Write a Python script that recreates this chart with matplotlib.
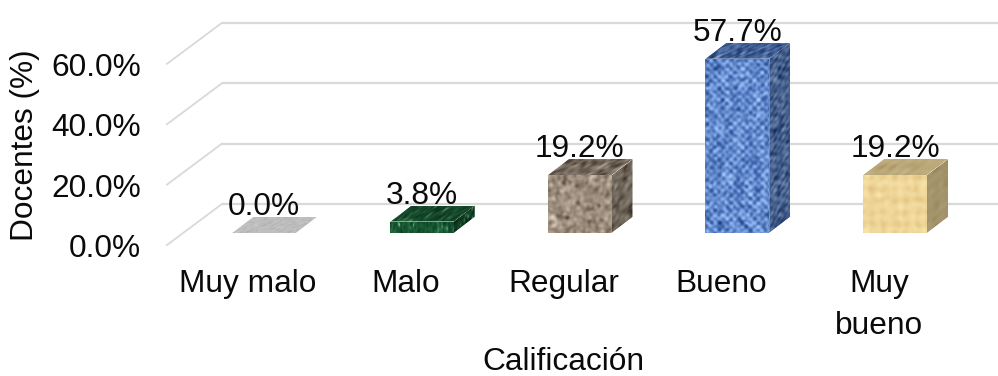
import numpy as np
import matplotlib
matplotlib.use("Agg")
import matplotlib.pyplot as plt
from matplotlib.patches import Polygon
from matplotlib.transforms import Affine2D

categories = ["Muy malo", "Malo", "Regular", "Bueno", "Muy\nbueno"]
values = [0.0, 3.8, 19.2, 57.7, 19.2]
y_ticks = [0, 20, 40, 60]
y_tick_labels = ["0.0%", "20.0%", "40.0%", "60.0%"]
x_title = "Calificación"
y_title = "Docentes (%)"

W, H = 998, 376
CAT_PX, PCT_PX = 157.75, 3.02
ORIGIN_X, ORIGIN_Y = 264.0, 233.0
BAR_W = 64 / CAT_PX
DEPTH_X, DEPTH_Y = 21 / CAT_PX, 16 / PCT_PX
WALL_X0 = (222 - ORIGIN_X) / CAT_PX
FRONT_X0 = (167 - ORIGIN_X) / CAT_PX
WALL_DY, FRONT_DY = 29 / PCT_PX, -12 / PCT_PX
GRID = "#d9d9d9"
TEXT = "#0a0a0a"
FS = 22.8

plt.rcParams["font.family"] = ["Liberation Sans", "DejaVu Sans"]
rng = np.random.RandomState(7)


def smooth(a, k):
    """Wrap-around blur of a 2-D array, k passes."""
    for _ in range(k):
        a = (a + np.roll(a, 1, 0) + np.roll(a, -1, 0) + np.roll(a, 1, 1) + np.roll(a, -1, 1)) / 5
    return a


def norm(a):
    return (a - a.min()) / (a.max() - a.min())


def ramp(t, stops):
    """Map 0..1 values through a list of RGB colour stops."""
    stops = np.array(stops, float) / 255
    pos = np.linspace(0, 1, len(stops))
    return np.dstack([np.interp(t, pos, stops[:, c]) for c in range(3)])


def tex_gray(h, w):
    return ramp(norm(smooth(rng.rand(h, w), 1)), [(170, 170, 170), (190, 190, 190), (205, 205, 205)])


def tex_marble(h, w):
    n = norm(smooth(rng.rand(h, w * 2), 6)[:, ::2])
    return ramp(n ** 1.4, [(14, 60, 34), (24, 88, 50), (40, 112, 70), (120, 190, 145)])


def tex_granite(h, w):
    n = norm(smooth(rng.rand(h, w), 5))
    return ramp(n, [(85, 72, 62), (140, 125, 110), (178, 164, 146), (222, 210, 194)])


def tex_weave(h, w):
    yy, xx = np.mgrid[0:h, 0:w]
    n = smooth(rng.rand(h, w), 4)
    weave = np.sin(xx * 0.8) * np.sin(yy * 0.8)
    t = norm(norm(n) * 1.5 + 0.3 * weave)
    return ramp(t, [(30, 62, 128), (72, 112, 182), (132, 170, 232), (190, 216, 252)])


def tex_papyrus(h, w):
    yy, xx = np.mgrid[0:h, 0:w]
    n = norm(smooth(rng.rand(h, w), 8))
    lines = 0.12 * np.sin(xx * 0.55) + 0.12 * np.sin(yy * 0.55)
    return ramp(np.clip(n * 0.7 + 0.25 + lines, 0, 1), [(222, 190, 125), (238, 212, 150), (248, 228, 172)])


textures = [tex_gray, tex_marble, tex_granite, tex_weave, tex_papyrus]

fig = plt.figure(figsize=(W / 100, H / 100), dpi=100)
ax = fig.add_axes([0, 0, 1, 1])
xlim = (-ORIGIN_X / CAT_PX, (W - ORIGIN_X) / CAT_PX)
ylim = ((ORIGIN_Y - H) / PCT_PX, ORIGIN_Y / PCT_PX)
ax.axis("off")

# Back wall gridlines with their receding floor segments
for t, lab in zip(y_ticks, y_tick_labels):
    wall = t + WALL_DY
    front = t + FRONT_DY
    ax.plot([WALL_X0, xlim[1]], [wall, wall], color=GRID, lw=1.6, zorder=1, solid_capstyle="butt")
    ax.plot([FRONT_X0, WALL_X0], [front, wall], color=GRID, lw=1.3, zorder=1)
    ax.text((141 - ORIGIN_X) / CAT_PX, front - 1.4, lab, ha="right", va="center", fontsize=FS, color=TEXT)


def face(img, origin, ex, ey, shade=1.0):
    """Paint a texture on the parallelogram origin + u*ex + v*ey."""
    m = Affine2D(np.array([[ex[0], ey[0], origin[0]], [ex[1], ey[1], origin[1]], [0, 0, 1]]))
    rgb = np.clip(img * shade, 0, 1)
    rgba = np.dstack([rgb, np.ones(rgb.shape[:2])])
    im = ax.imshow(rgba, extent=(0, 1, 0, 1), origin="lower", aspect="auto",
                   transform=m + ax.transData, interpolation="bilinear", zorder=3)
    outline = Polygon([origin,
                       (origin[0] + ex[0], origin[1] + ex[1]),
                       (origin[0] + ex[0] + ey[0], origin[1] + ex[1] + ey[1]),
                       (origin[0] + ey[0], origin[1] + ey[1])],
                      closed=True, transform=ax.transData)
    im.set_clip_path(outline)


for i, (v, make) in enumerate(zip(values, textures)):
    x0 = i - BAR_W / 2
    h_px = max(int(v * PCT_PX), 2)
    if v > 0:
        face(make(h_px, 64), (x0, 0), (BAR_W, 0), (0, v))
        face(make(h_px, 21), (x0 + BAR_W, 0), (DEPTH_X, DEPTH_Y), (0, v), shade=0.68)
    face(make(17, 64), (x0, v), (BAR_W, 0), (DEPTH_X, DEPTH_Y), shade=1.0 if v == 0 else 0.78)
    ax.text(i, v + DEPTH_Y + 0.6, f"{v:.1f}%", ha="center", va="baseline", fontsize=FS, color=TEXT, zorder=4)
    ax.text(i - 16 / CAT_PX, (ORIGIN_Y - 269) / PCT_PX, categories[i], ha="center", va="top",
            fontsize=FS, color=TEXT, linespacing=1.5)

ax.text((563 - ORIGIN_X) / CAT_PX, (ORIGIN_Y - 362) / PCT_PX, x_title, ha="center", va="center",
        fontsize=FS, color=TEXT)
ax.text((25 - ORIGIN_X) / CAT_PX, (ORIGIN_Y - 145) / PCT_PX, y_title, ha="center", va="center",
        rotation=90, fontsize=FS, color=TEXT)
ax.set_xlim(*xlim)
ax.set_ylim(*ylim)

fig.savefig("out.png", dpi=100)
